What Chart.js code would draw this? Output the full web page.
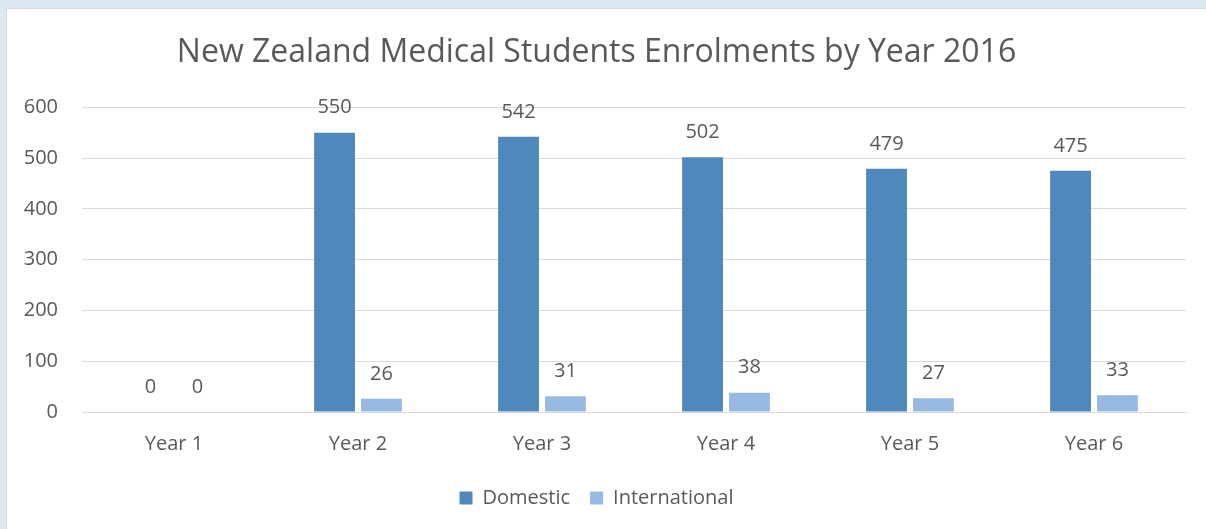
<!DOCTYPE html>
<html>
<head>
<meta charset="utf-8">
<script src="https://cdn.jsdelivr.net/npm/chart.js@4.4.1/dist/chart.umd.min.js"></script>
<style>
  html, body { margin: 0; padding: 0; background: #dee8f4; }
  #frame {
    position: absolute; left: 6px; top: 8px; width: 1200px; height: 521px;
    background: #ffffff; border-left: 1px solid #d4d9e0; border-top: 1px solid #d4d9e0;
  }
  #content { display: block; }
</style>
</head>
<body>
<div id="frame"><canvas id="content" width="1199" height="520"></canvas></div>
<script>
// values
var years = ["Year 1", "Year 2", "Year 3", "Year 4", "Year 5", "Year 6"];
var domestic = [0, 550, 542, 502, 479, 475];
var international = [0, 26, 31, 38, 27, 33];
var yTicks = [0, 100, 200, 300, 400, 500, 600];

var textColor = "#595959";
var fontName = "'Open Sans', sans-serif";

// draws the number above each bar
var valueLabels = {
  id: "valueLabels",
  afterDatasetsDraw: function (chart) {
    var ctx = chart.ctx;
    ctx.save();
    ctx.fillStyle = textColor;
    ctx.font = "20px " + fontName;
    ctx.textAlign = "center";
    ctx.textBaseline = "middle";
    chart.data.datasets.forEach(function (ds, i) {
      var meta = chart.getDatasetMeta(i);
      meta.data.forEach(function (bar, j) {
        ctx.fillText(String(ds.data[j]), bar.x, bar.y - 25);
      });
    });
    ctx.restore();
  }
};

new Chart("content", {
  type: "bar",
  data: {
    labels: years,
    datasets: [
      {
        label: "Domestic",
        data: domestic,
        backgroundColor: "#4f88bd",
        categoryPercentage: 0.51,
        barPercentage: 0.87
      },
      {
        label: "International",
        data: international,
        backgroundColor: "#95b9e0",
        categoryPercentage: 0.51,
        barPercentage: 0.87
      }
    ]
  },
  options: {
    responsive: false,
    animation: false,
    layout: { padding: { left: 0, right: 20, top: 14, bottom: 11 } },
    plugins: {
      title: {
        display: true,
        text: "New Zealand Medical Students Enrolments by Year 2016",
        color: textColor,
        font: { family: fontName, size: 32, weight: "normal" },
        padding: { top: 11, bottom: 35 }
      },
      legend: {
        position: "bottom",
        labels: {
          color: textColor,
          font: { family: fontName, size: 20 },
          boxWidth: 13,
          boxHeight: 13,
          padding: 20
        }
      },
      tooltip: { enabled: false }
    },
    scales: {
      x: {
        grid: { display: false },
        border: { color: "#d9d9d9", width: 1 },
        ticks: { color: textColor, font: { family: fontName, size: 20 }, padding: 12 }
      },
      y: {
        min: 0,
        max: 600,
        afterBuildTicks: function (axis) {
          axis.ticks = yTicks.map(function (v) { return { value: v }; });
        },
        afterFit: function (axis) {
          axis.width = 75;
        },
        grid: { color: "#d9d9d9", lineWidth: 1, drawTicks: false },
        border: { display: false },
        ticks: { color: textColor, font: { family: fontName, size: 20 }, padding: 24 }
      }
    }
  },
  plugins: [valueLabels]
});
</script>
</body>
</html>
